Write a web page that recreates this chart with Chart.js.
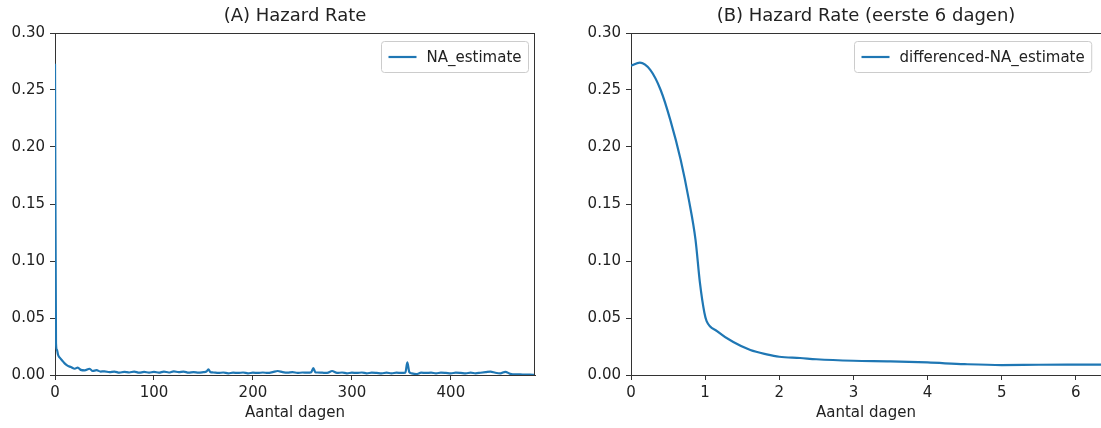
<!DOCTYPE html>
<html><head><meta charset="utf-8">
<script src="https://cdn.jsdelivr.net/npm/chart.js@4.4.0/dist/chart.umd.min.js"></script>
<style>
html,body{margin:0;padding:0;background:#fff;width:1101px;height:428px;overflow:hidden}
canvas{position:absolute;top:0}
#cA{left:0}
#cB{left:550px}
</style></head><body>
<canvas id="cA" width="550" height="428"></canvas>
<canvas id="cB" width="551" height="428"></canvas>
<script>
const titleA = '(A) Hazard Rate';
const titleB = '(B) Hazard Rate (eerste 6 dagen)';
const xLabel = 'Aantal dagen';
const legendA = 'NA_estimate';
const legendB = 'differenced-NA_estimate';
const yTicks = [0, 0.05, 0.10, 0.15, 0.20, 0.25, 0.30];
const xTicksA = [0, 100, 200, 300, 400];
const xTicksB = [0, 1, 2, 3, 4, 5, 6];

const daysA = [0,1,2,3,4,5,7,10,13,16,20,23,26,30,35,38,42,46,50,55,60,65,70,75,80,85,90,95,100,105,110,115,120,125,130,135,140,145,150,153,155,157,160,165,170,175,180,185,190,195,200,205,210,215,220,225,230,235,240,245,250,255,259,261,263,265,270,275,280,285,290,295,300,305,310,315,320,325,330,335,340,345,350,354,356,358,360,365,370,375,380,385,390,395,400,405,410,415,420,425,430,435,440,445,450,455,460,465,470,475,480,485];
const hazardA = [0.273,0.028,0.022,0.018,0.016,0.015,0.013,0.010,0.008,0.007,0.0055,0.0065,0.0045,0.004,0.0055,0.0035,0.0042,0.003,0.0032,0.0025,0.003,0.002,0.0028,0.0022,0.003,0.002,0.0027,0.0021,0.0028,0.002,0.003,0.0022,0.0032,0.0025,0.003,0.002,0.0025,0.002,0.0025,0.003,0.005,0.0025,0.0022,0.0018,0.0022,0.0015,0.002,0.0018,0.0022,0.0015,0.002,0.0018,0.0022,0.0018,0.0025,0.0035,0.0025,0.002,0.0025,0.0018,0.0022,0.002,0.0025,0.006,0.0025,0.0022,0.002,0.0018,0.0035,0.0018,0.0022,0.0015,0.002,0.0018,0.0022,0.0015,0.002,0.0018,0.0015,0.002,0.0015,0.002,0.0018,0.002,0.011,0.0025,0.0015,0.0008,0.002,0.0018,0.002,0.0015,0.002,0.0018,0.0015,0.002,0.0018,0.0015,0.002,0.0015,0.002,0.0025,0.003,0.002,0.0015,0.0028,0.001,0.0005,0.0005,0.0003,0.0003,0.0002];

const daysB = [0,0.12,0.26,0.4,0.53,0.67,0.78,0.87,0.93,0.99,1.02,1.16,1.38,1.61,1.83,2.0,2.28,2.5,3.0,3.5,4.0,4.5,5.0,5.5,6.0,6.34];
const hazardB = [0.2714,0.274,0.2676,0.250,0.2238,0.1888,0.1538,0.1188,0.0808,0.0546,0.0473,0.0385,0.0289,0.0219,0.0181,0.016,0.0149,0.0138,0.0125,0.012,0.011,0.0095,0.0087,0.009,0.0091,0.0091];

const FONT = 'DejaVu Sans';
const TXT = '#222';
const AX = '#333';
const LINE = '#1f77b4';

const framePlugin = {
  id: 'frame',
  afterDraw(chart, args, opts) {
    const {ctx, chartArea: a} = chart;
    ctx.save();
    // title centred over the axes
    ctx.fillStyle = TXT;
    ctx.font = '18px "' + FONT + '"';
    ctx.textAlign = 'center'; ctx.textBaseline = 'alphabetic';
    ctx.fillText(opts.title, opts.titleCenter != null ? opts.titleCenter : (a.left + a.right) / 2, 21);
    // frame
    ctx.strokeStyle = AX; ctx.lineWidth = 1;
    ctx.beginPath();
    ctx.moveTo(a.left, a.top + 0.5); ctx.lineTo(a.right, a.top + 0.5);
    if (opts.right) { ctx.moveTo(a.right - 0.5, a.top); ctx.lineTo(a.right - 0.5, a.bottom); }
    ctx.stroke();
    // legend
    const fs = 15;
    ctx.font = fs + 'px "' + FONT + '"';
    const tw = ctx.measureText(opts.text).width;
    const w = 45 + tw + 7;
    const h = 31;
    const right = opts.legendRight != null ? opts.legendRight : a.right - 7.5;
    const x = Math.round(right - w) + 0.5, y = Math.round(a.top + 8) + 0.5;
    ctx.fillStyle = 'rgba(255,255,255,0.85)';
    ctx.strokeStyle = '#cccccc';
    ctx.lineWidth = 1;
    ctx.beginPath();
    if (ctx.roundRect) ctx.roundRect(x, y, w, h, 3); else ctx.rect(x, y, w, h);
    ctx.fill(); ctx.stroke();
    ctx.strokeStyle = LINE; ctx.lineWidth = 2.2;
    ctx.beginPath();
    ctx.moveTo(x + 7, y + h / 2); ctx.lineTo(x + 35, y + h / 2);
    ctx.stroke();
    ctx.fillStyle = TXT; ctx.textBaseline = 'middle'; ctx.textAlign = 'left';
    ctx.fillText(opts.text, x + 45, y + h / 2 + 1);
    ctx.restore();
  }
};

function makeChart(id, days, vals, label, title, xTicks, xMax, padLeft, padRight, legendRight, titleCenter) {
  return new Chart(document.getElementById(id), {
    type: 'line',
    data: { datasets: [{ label: label, data: days.map((d, i) => ({x: d, y: vals[i]})),
      borderColor: LINE, borderWidth: 2.2, pointRadius: 0, fill: false,
      cubicInterpolationMode: 'monotone' }] },
    options: {
      responsive: false, animation: false, devicePixelRatio: 1,
      layout: { padding: { top: 33, left: padLeft, right: padRight, bottom: 0 } },
      plugins: {
        legend: { display: false }, tooltip: { enabled: false },
        title: { display: false },
        frame: { text: label, title: title, right: padRight > 0, legendRight: legendRight, titleCenter: titleCenter }
      },
      scales: {
        x: { type: 'linear', min: 0, max: xMax,
          afterBuildTicks: s => { s.ticks = xTicks.map(v => ({value: v})); },
          afterFit: s => { s.height = 53; },
          grid: { display: true, drawOnChartArea: false, drawTicks: true, tickLength: 5, color: AX },
          border: { display: true, color: AX, width: 1 },
          ticks: { padding: 4, color: TXT, font: { family: FONT, size: 15 }, maxRotation: 0, callback: v => String(v) },
          title: { display: true, text: xLabel, color: TXT, font: { family: FONT, size: 15 }, padding: { top: 0, bottom: 6 } } },
        y: { min: 0, max: 0.3,
          afterBuildTicks: s => { s.ticks = yTicks.map(v => ({value: v})); },
          afterFit: s => { s.width = 55; },
          grid: { display: true, drawOnChartArea: false, drawTicks: true, tickLength: 5, color: AX },
          border: { display: true, color: AX, width: 1 },
          ticks: { padding: 5, color: TXT, font: { family: FONT, size: 15 }, callback: v => v.toFixed(2) } }
      }
    },
    plugins: [framePlugin]
  });
}

makeChart('cA', daysA, hazardA, legendA, titleA, xTicksA, 485, 0, 15, null, null);
makeChart('cB', daysB, hazardB, legendB, titleB, xTicksB, 6.34, 26, 0, 541, 316);
</script>
</body></html>
